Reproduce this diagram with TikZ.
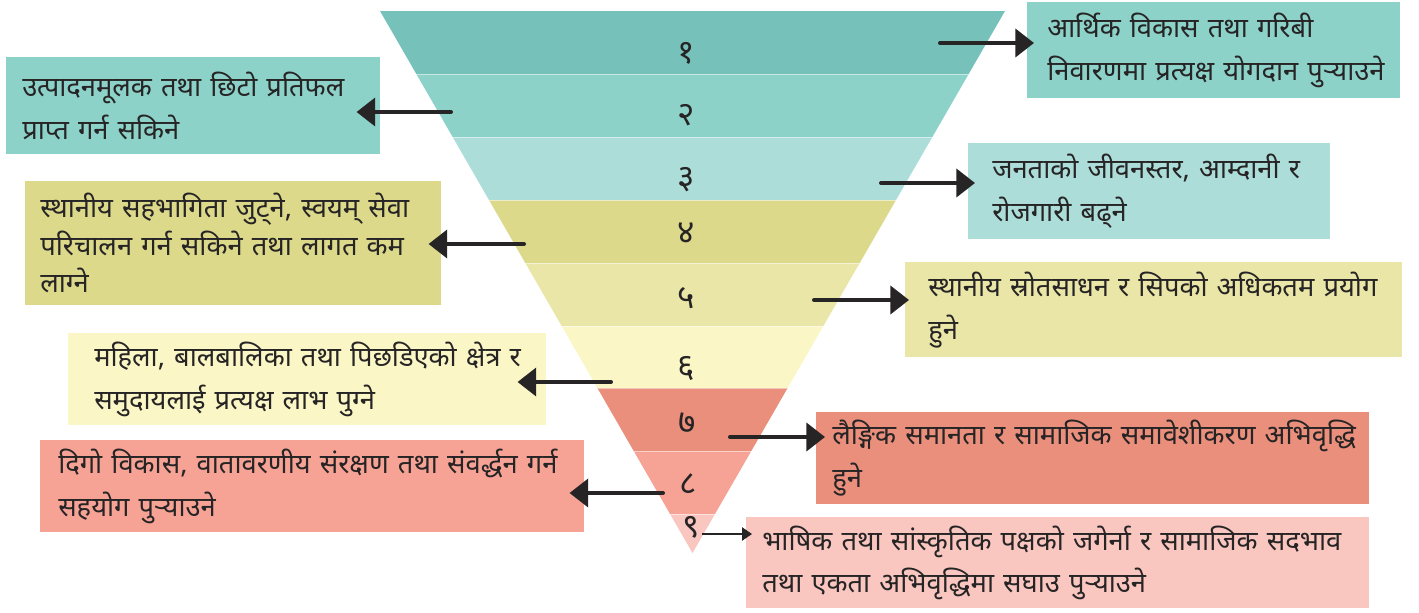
\documentclass[tikz,border=0pt]{standalone}
\usepackage{fontspec}
\newfontfamily\dev[Script=Devanagari]{Noto Sans}
\usetikzlibrary{arrows.meta,calc}
\definecolor{cA}{HTML}{76C2BB}
\definecolor{cB}{HTML}{8DD2C9}
\definecolor{cC}{HTML}{ACDDD8}
\definecolor{cD}{HTML}{DCD98A}
\definecolor{cE}{HTML}{EAE6A7}
\definecolor{cF}{HTML}{FBF6C5}
\definecolor{cG}{HTML}{E98F7C}
\definecolor{cH}{HTML}{F6A396}
\definecolor{cI}{HTML}{F9C6C0}
\definecolor{ink}{HTML}{262425}
\newcommand\oneline[1]{\mbox{#1}}
\tikzset{
  bx/.style={anchor=north west, inner ysep=0pt, align=left, text=ink,
    font=\dev\fontsize{20.5}{32}\selectfont},
  num/.style={text=ink, font=\dev\fontsize{25}{26}\selectfont, inner sep=0pt},
  arr/.style={draw=ink, line width=3pt, line cap=round, -{Triangle[length=14pt,width=21pt]}},
  thinarr/.style={draw=ink, line width=1.1pt, -{Triangle[length=7.5pt,width=10pt]}},
}
\begin{document}
\begin{tikzpicture}[x=0.75pt,y=-0.75pt]
\useasboundingbox (0,0) rectangle (1419,613);
% inverted triangle bands
\begin{scope}
\clip (380,11) -- (1005,11) -- (692.5,553) -- cycle;
\fill[cA] (370,11) rectangle (1010,74);
\fill[cB] (370,74) rectangle (1010,137);
\fill[cC] (370,137) rectangle (1010,200);
\fill[cD] (370,200) rectangle (1010,263);
\fill[cE] (370,263) rectangle (1010,326);
\fill[cF] (370,326) rectangle (1010,388);
\fill[cG] (370,388) rectangle (1010,451);
\fill[cH] (370,451) rectangle (1010,514);
\fill[cI] (370,514) rectangle (1010,560);
\foreach \yy in {74,137,200,263,326,388,451,514}
  \draw[white, opacity=0.5, line width=0.6pt] (370,\yy) -- (1010,\yy);
\end{scope}
% numbers
\node[num] (n1) at (686,53) {१};
\node[num] (n2) at (686,115) {२};
\node[num] (n3) at (686,180) {३};
\node[num] (n4) at (686,233) {४};
\node[num] (n5) at (686,298) {५};
\node[num] (n6) at (686,368) {६};
\node[num] (n7) at (687,423) {७};
\node[num] (n8) at (688,484) {८};
\node[num] (n9) at (691,527) {९};
% boxes
\node[bx, fill=cB, text width=249.75pt, inner xsep=15pt, minimum height=72pt] (b1) at (1027,2)
  {\oneline{आर्थिक विकास तथा गरिबी}\\\oneline{निवारणमा प्रत्यक्ष योगदान पुर्‍याउने}};
\node[bx, fill=cB, text width=256.5pt, inner xsep=12pt, minimum height=72.75pt] (b2) at (6,57)
  {\oneline{उत्पादनमूलक तथा छिटो प्रतिफल}\\\oneline{प्राप्त गर्न सकिने}};
\node[bx, fill=cC, text width=235.5pt, inner xsep=18pt, minimum height=72pt] (b3) at (968,143)
  {\oneline{जनताको जीवनस्तर, आम्दानी र}\\\oneline{रोजगारी बढ्ने}};
\node[bx, fill=cD, text width=289.5pt, inner xsep=11.25pt, minimum height=93pt,
  font=\dev\fontsize{20.5}{28}\selectfont] (b4) at (25,181)
  {\oneline{स्थानीय सहभागिता जुट्ने, स्वयम् सेवा}\\\oneline{परिचालन गर्न सकिने तथा लागत कम}\\\oneline{लाग्ने}};
\node[bx, fill=cE, text width=338.25pt, inner xsep=17.25pt, minimum height=71.25pt] (b5) at (905,262)
  {\oneline{स्थानीय स्रोतसाधन र सिपको अधिकतम प्रयोग}\\\oneline{हुने}};
\node[bx, fill=cF, text width=319.5pt, inner xsep=19.5pt, minimum height=69pt] (b6) at (68,333)
  {\oneline{महिला, बालबालिका तथा पिछडिएको क्षेत्र र}\\\oneline{समुदायलाई प्रत्यक्ष लाभ पुग्ने}};
\node[bx, fill=cG, text width=390.75pt, inner xsep=12pt, minimum height=69pt] (b7) at (816,412)
  {\oneline{लैङ्गिक समानता र सामाजिक समावेशीकरण अभिवृद्धि}\\\oneline{हुने}};
\node[bx, fill=cH, text width=381pt, inner xsep=13.5pt, minimum height=69pt] (b8) at (40,440)
  {\oneline{दिगो विकास, वातावरणीय संरक्षण तथा संवर्द्धन गर्न}\\\oneline{सहयोग पुर्‍याउने}};
\node[bx, fill=cI, text width=443.25pt, inner xsep=12pt, minimum height=68.25pt] (b9) at (746,517)
  {\oneline{भाषिक तथा सांस्कृतिक पक्षको जगेर्ना र सामाजिक सदभाव}\\\oneline{तथा एकता अभिवृद्धिमा सघाउ पुर्‍याउने}};
% arrow tails
\coordinate (t1) at (940,43);
\coordinate (t2) at (451,112);
\coordinate (t3) at (881,183);
\coordinate (t4) at (524,244);
\coordinate (t5) at (814,300);
\coordinate (t6) at (611,382);
\coordinate (t7) at (730,437);
\coordinate (t8) at (663,493);
\coordinate (t9) at (702,534);
\draw[arr] (t1) -- ($(t1 -| b1.west)+(7,0)$);
\draw[arr] (t2) -- ($(t2 -| b2.east)+(-24,0)$);
\draw[arr] (t3) -- ($(t3 -| b3.west)+(7,0)$);
\draw[arr] (t4) -- ($(t4 -| b4.east)+(-13,0)$);
\draw[arr] (t5) -- ($(t5 -| b5.west)+(4,0)$);
\draw[arr] (t6) -- ($(t6 -| b6.east)+(-29,0)$);
\draw[arr] (t7) -- ($(t7 -| b7.west)+(9,0)$);
\draw[arr] (t8) -- ($(t8 -| b8.east)+(-15,0)$);
\draw[thinarr] (t9) -- ($(t9 -| b9.west)+(6,0)$);
\end{tikzpicture}
\end{document}
